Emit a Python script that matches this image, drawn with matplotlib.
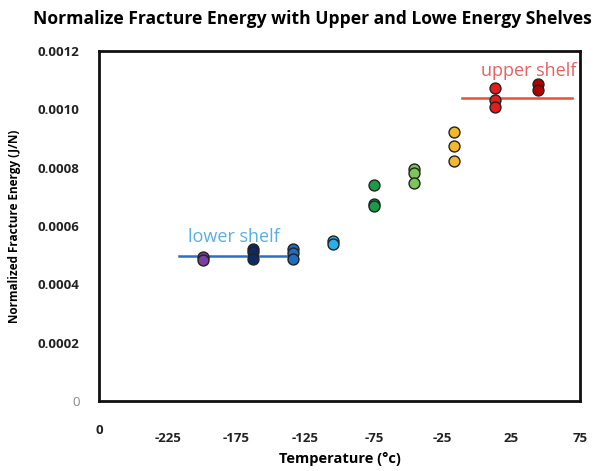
import matplotlib.pyplot as plt
import numpy as np

plt.rcParams['font.family'] = ['Open Sans', 'DejaVu Sans']

# temperature of each group (deg C) and the measured values
temps = [-199, -163, -134, -105, -75, -46, -17, 13, 44]
energy = [
    [0.000493, 0.000483],
    [0.000521, 0.000510, 0.000486],
    [0.000521, 0.000508, 0.000486],
    [0.000548, 0.000538],
    [0.000742, 0.000676, 0.000669],
    [0.000797, 0.000783, 0.000748],
    [0.000921, 0.000876, 0.000824],
    [0.001072, 0.001031, 0.001007],
    [0.001087, 0.001068],
]
colors = ['#7a3fa3', '#0e2a66', '#1f6cc0', '#2ab0e8', '#1d9a48',
          '#7cc657', '#f5b82a', '#e81a1a', '#b00000']

lower_x = [-217, -134]
lower_y = 0.000496
upper_x = [-11, 69]
upper_y = 0.00104

xticks = [-275, -225, -175, -125, -75, -25, 25, 75]
xticklabels = ['', '-225', '-175', '-125', '-75', '-25', '25', '75']
yticks = [0, 0.0002, 0.0004, 0.0006, 0.0008, 0.0010, 0.0012]
yticklabels = ['0', '0.0002', '0.0004', '0.0006', '0.0008', '0.0010', '0.0012']

fig = plt.figure(figsize=(5.95, 4.71), dpi=100)
ax = fig.add_axes([0.1664, 0.1486, 0.8086, 0.7431])

for t, vals, c in zip(temps, energy, colors):
    ax.scatter([t] * len(vals), vals, s=62, color=c, edgecolor='#222222',
               linewidth=1.0, zorder=3)

ax.plot(lower_x, [lower_y, lower_y], color='#2a6fd0', lw=1.8, zorder=2)
ax.plot(upper_x, [upper_y, upper_y], color='#e8503a', lw=1.8, zorder=2)
ax.text(-210, 0.000545, 'lower shelf', color='#5aaee6', fontsize=13)
ax.text(3, 0.001115, 'upper shelf', color='#e86060', fontsize=13)

ax.set_xlim(-275, 75)
ax.set_ylim(0, 0.0012)
ax.set_xticks(xticks)
ax.set_xticklabels(xticklabels, fontweight='bold', fontsize=9.5, color='#222222')
ax.set_yticks(yticks)
ax.set_yticklabels(yticklabels, fontweight='bold', fontsize=9.5, color='#222222')
ax.get_yticklabels()[0].set_fontweight('normal')
ax.get_yticklabels()[0].set_color('#888888')
ax.tick_params(axis='x', length=0, pad=22)
ax.tick_params(axis='y', length=0, pad=14)
# odd "0" label at the left end of the temperature axis
ax.text(-275, -0.0001, '0', ha='center', va='center', fontweight='bold',
        fontsize=9.5, color='#222222')

for s in ax.spines.values():
    s.set_linewidth(2)
    s.set_color('#111111')

ax.set_xlabel('Temperature (°c)', fontweight='bold', fontsize=10.5, labelpad=5)
ax.set_ylabel('Normalized Fracture Energy (J/N)', fontweight='bold', fontsize=8.5,
              labelpad=12)
fig.text(0.525, 0.96, 'Normalize Fracture Energy with Upper and Lowe Energy Shelves',
         ha='center', va='center', fontweight='bold', fontsize=12.6)

fig.savefig('out.png', dpi=100)
